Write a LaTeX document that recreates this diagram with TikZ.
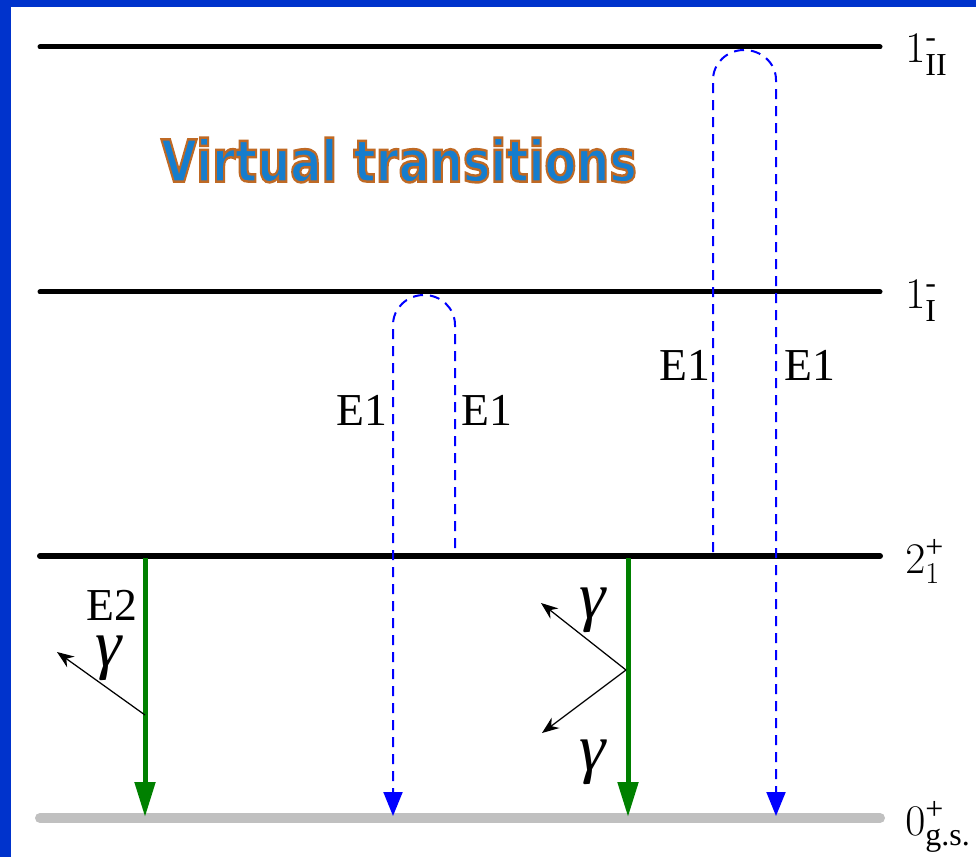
\documentclass[tikz,border=0pt]{standalone}
\usepackage{amsmath}
\usepackage{fontspec}
\setmainfont{Liberation Serif}
\newfontfamily\titlefont{DejaVu Sans}
\usetikzlibrary{arrows.meta}
\definecolor{frameblue}{RGB}{0,51,204}
\definecolor{virtblue}{RGB}{0,0,255}
\definecolor{decaygreen}{RGB}{0,128,0}
\definecolor{titleblue}{RGB}{22,125,205}
\definecolor{gsgray}{RGB}{192,192,192}
% outlined title text (fill + stroke)
\newcommand\outlined[1]{\special{pdf:literal direct 2 Tr 1.4 w 0.75 0.41 0.14 RG}#1\special{pdf:literal direct 0 Tr}}

\begin{document}
\begin{tikzpicture}[x=0.02cm, y=-0.02cm,
    level/.style={line width=0.1cm, line cap=round},
    virtual/.style={virtblue, line width=0.04cm, dash pattern=on 0.2cm off 0.14cm,
        -{Triangle[length=0.48cm, width=0.38cm]}},
    decay/.style={decaygreen, line width=0.1cm,
        -{Triangle[length=0.7cm, width=0.4cm]}},
    photon/.style={line width=0.025cm, -{Stealth[length=0.34cm, width=0.26cm]}},
    lbl/.style={font=\fontsize{26}{30}\selectfont, inner sep=0pt},
    glbl/.style={font=\itshape\fontsize{38}{42}\selectfont, inner sep=0pt}]
    \useasboundingbox (0,0) rectangle (976,857);
    \fill[frameblue] (0,0) rectangle (976,857);
    \fill[white] (11,7) rectangle (976,857);
    % levels
    \draw[level] (40,47) coordinate (lIIa) -- (880,47) coordinate (lIIb);
    \draw[level] (40,292) coordinate (lIa) -- (880,292) coordinate (lIb);
    \draw[level, line width=0.12cm] (40,556) coordinate (twoa) -- (880,556) coordinate (twob);
    \draw[level, gsgray, line width=0.2cm] (40,818) coordinate (gsa) -- (880,818) coordinate (gsb);
    \node[lbl, anchor=base west] (nIIlbl) at (905,63) {$1^{\text{-}}_{\text{II}}$};
    \node[lbl, anchor=base west] (nIlbl) at (905,309) {$1^{\text{-}}_{\text{I}}$};
    \node[lbl, anchor=base west] (twolbl) at (905,573) {$2^{\text{+}}_{1}$};
    \node[lbl, anchor=base west] (gslbl) at (905,835) {$0^{\text{+}}_{\text{g.s.}}$};
    % title
    \node[font=\titlefont\bfseries\fontsize{33}{36}\selectfont, text=titleblue] (title) at (399,160)
        {\scalebox{0.8}[1]{\outlined{Virtual transitions}}};
    % virtual E1 loops
    \coordinate (vIstart) at (455,548);
    \coordinate (vIend) at (393,816);
    \coordinate (vIIstart) at (713,552);
    \coordinate (vIIend) at (776,816);
    \draw[virtual] (vIstart) -- (455,325) to[out=90, in=0] (424,295)
        to[out=180, in=90] (393,325) -- (vIend);
    \draw[virtual] (vIIstart) -- (713,80) to[out=90, in=180] (744,50)
        to[out=0, in=90] (776,80) -- (vIIend);
    \node[lbl] (eIa) at (362,410) {E1};
    \node[lbl] (eIb) at (487,410) {E1};
    \node[lbl] (eIIa) at (685,365) {E1};
    \node[lbl] (eIIb) at (810,365) {E1};
    % real decays
    \coordinate (dAtop) at (145,558);
    \coordinate (dAend) at (145,817);
    \coordinate (dBtop) at (628,558);
    \coordinate (dBend) at (628,817);
    \draw[decay] (dAtop) -- (dAend);
    \draw[decay] (dBtop) -- (dBend);
    \coordinate (emA) at (145,715);
    \coordinate (emB) at (626,670);
    \coordinate (gA) at (57,652);
    \coordinate (gB1) at (541,603);
    \coordinate (gB2) at (542,733);
    \draw[photon] (emA) -- (gA);
    \draw[photon] (emB) -- (gB1);
    \draw[photon] (emB) -- (gB2);
    \node[lbl] (etwo) at (112,605) {E2};
    \node[glbl, anchor=base] (gamA) at (109,666) {γ};
    \node[glbl, anchor=base] (gamB1) at (593,618) {γ};
    \node[glbl, anchor=base] (gamB2) at (593,770) {γ};
\end{tikzpicture}
\end{document}
